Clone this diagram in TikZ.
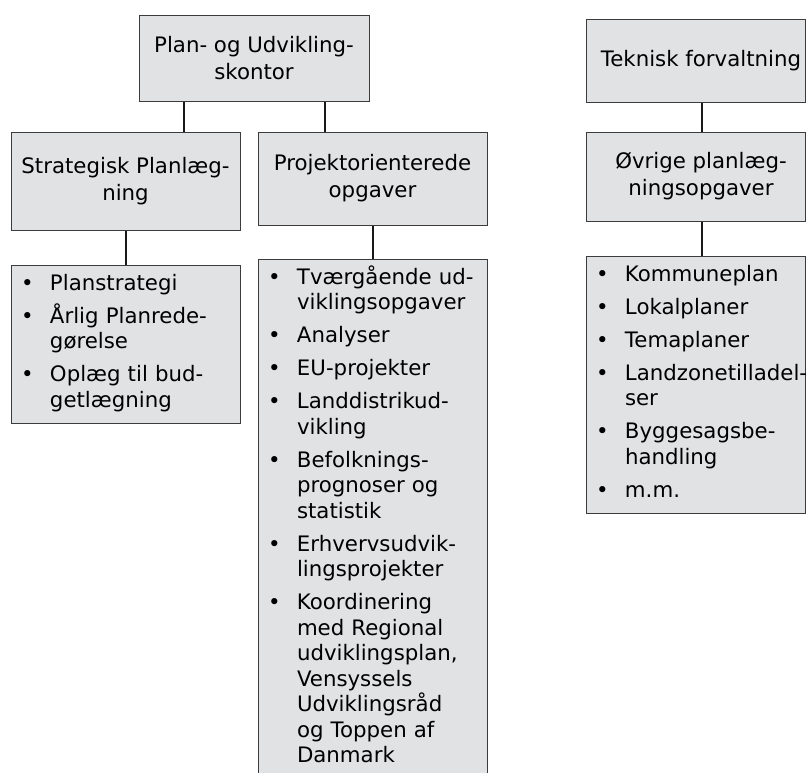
\documentclass[tikz,border=0pt]{standalone}
\usepackage{fontspec}
\setmainfont{DejaVu Sans}
\usetikzlibrary{positioning}

\definecolor{boxgray}{RGB}{225,226,228}
\definecolor{edgegray}{RGB}{60,60,60}
\newcommand{\itm}{\makebox[31pt][l]{\hspace{2pt}\textbullet}}
\newcommand{\cnt}{\hspace*{31pt}}

\begin{document}
\begin{tikzpicture}[
  x=1pt,y=-1pt,
  font=\fontsize{21.3}{25.5}\selectfont,
  hbox/.style={draw=edgegray,fill=boxgray,line width=1pt,align=center,
               minimum width=229pt,inner sep=4pt,
               font=\fontsize{21.3}{27}\selectfont},
  lbox/.style={draw=edgegray,fill=boxgray,line width=1pt,align=left,
               inner xsep=8pt,inner ysep=9pt,text height=16pt},
  conn/.style={line width=2pt,black!90}]

\useasboundingbox (0,0) rectangle (806,772);

% --- left part: Plan- og Udviklingskontor ---
\node[hbox,minimum width=230pt,minimum height=86pt] (kontor) at (254,58)
  {Plan- og Udvikling-\\skontor};

\node[hbox,minimum height=98pt] (strat) at (125.5,181)
  {Strategisk Planlæg-\\ning};

\node[hbox,minimum height=93pt] (proj) at (372.5,178.5)
  {Projektorienterede\\opgaver};

\node[lbox,text width=213pt,text depth=124pt,below=34pt of strat] (llist)
  {\itm Planstrategi\\[7.5pt]
   \itm Årlig Planrede-\\\cnt gørelse\\[7.5pt]
   \itm Oplæg til bud-\\\cnt getlægning};

\node[lbox,text width=213pt,text depth=520pt,below=33pt of proj] (mlist)
  {\itm Tværgående ud-\\\cnt viklingsopgaver\\[7.5pt]
   \itm Analyser\\[7.5pt]
   \itm EU-projekter\\[7.5pt]
   \itm Landdistrikud-\\\cnt vikling\\[7.5pt]
   \itm Befolknings-\\\cnt prognoser og\\\cnt statistik\\[7.5pt]
   \itm Erhvervsudvik-\\\cnt lingsprojekter\\[7.5pt]
   \itm Koordinering\\\cnt med Regional\\\cnt udviklingsplan,\\\cnt Vensyssels\\
   \cnt Udviklingsråd\\\cnt og Toppen af\\\cnt Danmark};

% --- right part: Teknisk forvaltning ---
\node[hbox,minimum width=219.5pt,minimum height=83pt] (tek) at (695.75,60.5)
  {\hspace*{10.5pt}Teknisk forvaltning};

\node[hbox,minimum width=219.5pt,minimum height=89pt] (ovr) at (695.75,176.5)
  {\hspace*{10.5pt}Øvrige planlæg-\\\hspace*{10.5pt}ningsopgaver};

\node[lbox,text width=203.5pt,text depth=223pt,below=34pt of ovr] (rlist)
  {\itm Kommuneplan\\[7.5pt]
   \itm Lokalplaner\\[7.5pt]
   \itm Temaplaner\\[7.5pt]
   \itm \rlap{Landzonetilladel-}\\\cnt ser\\[7.5pt]
   \itm Byggesagsbe-\\\cnt handling\\[7.5pt]
   \itm m.m.};

% --- connectors ---
\draw[conn] ([xshift=45pt]kontor.south west) -- ([xshift=45pt]kontor.south west |- strat.north);
\draw[conn] ([xshift=-45pt]kontor.south east) -- ([xshift=-45pt]kontor.south east |- proj.north);
\draw[conn] (strat.south) -- (llist.north);
\draw[conn] (proj.south) -- (mlist.north);
\draw[conn] ([xshift=6pt]tek.south) -- ([xshift=6pt]ovr.north);
\draw[conn] ([xshift=6pt]ovr.south) -- ([xshift=6pt]rlist.north);

\end{tikzpicture}
\end{document}
